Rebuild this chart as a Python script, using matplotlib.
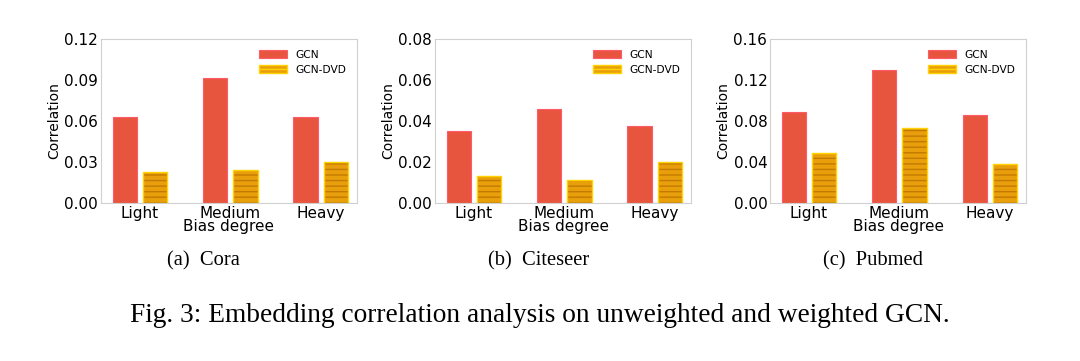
import numpy as np
import matplotlib
matplotlib.use("Agg")
import matplotlib.pyplot as plt

categories = ["Light", "Medium", "Heavy"]
datasets = ["(a)  Cora", "(b)  Citeseer", "(c)  Pubmed"]

cora_gcn = [0.0632, 0.0917, 0.0632]
cora_dvd = [0.0225, 0.0241, 0.0302]
citeseer_gcn = [0.0349, 0.0456, 0.0377]
citeseer_dvd = [0.0130, 0.0110, 0.0198]
pubmed_gcn = [0.0885, 0.1300, 0.0855]
pubmed_dvd = [0.0490, 0.0731, 0.0375]

y_max = [0.12, 0.08, 0.16]
y_ticks = [
    [0.00, 0.03, 0.06, 0.09, 0.12],
    [0.00, 0.02, 0.04, 0.06, 0.08],
    [0.00, 0.04, 0.08, 0.12, 0.16],
]

GCN_FACE = "#e8553e"
GCN_EDGE = "#ff5a6a"
DVD_FACE = "#e99f0c"
DVD_EDGE = "#ffd400"
DVD_HATCH = "#c27a00"

fig = plt.figure(figsize=(10.8, 3.61), dpi=100)
lefts = [0.0935, 0.4028, 0.713]
caption_x = [0.1884, 0.4986, 0.8085]
all_gcn = [cora_gcn, citeseer_gcn, pubmed_gcn]
all_dvd = [cora_dvd, citeseer_dvd, pubmed_dvd]

x = np.arange(len(categories))
w = 0.27
off = 0.167

for i in range(3):
    ax = fig.add_axes([lefts[i], 0.438, 0.237, 0.454])
    ax.bar(x - off, all_gcn[i], w, color=GCN_FACE, edgecolor=GCN_EDGE,
           linewidth=0.8, label="GCN")
    # hatch drawn in a darker tone, then the yellow outline on top
    ax.bar(x + off, all_dvd[i], w, color=DVD_FACE, edgecolor=DVD_HATCH,
           linewidth=0, hatch="---")
    ax.bar(x + off, all_dvd[i], w, color="none", edgecolor=DVD_EDGE,
           linewidth=1.0)
    ax.bar([0], [0], 0, color=DVD_FACE, edgecolor=DVD_EDGE, linewidth=1.0,
           hatch="---", label="GCN-DVD")

    ax.set_xlim(-0.43, 2.4)
    ax.set_ylim(0, y_max[i])
    ax.set_yticks(y_ticks[i])
    ax.set_yticklabels(["%.2f" % t for t in y_ticks[i]], fontsize=11)
    ax.set_xticks(x)
    ax.set_xticklabels(categories, fontsize=11)
    ax.tick_params(length=0, pad=2)
    ax.set_xlabel("Bias degree", fontsize=11, labelpad=-1)
    ax.set_ylabel("Correlation", fontsize=10, labelpad=2)
    for s in ax.spines.values():
        s.set_color("#d0d0d0")
        s.set_linewidth(0.8)
    ax.legend(loc="upper right", frameon=False, fontsize=7.7,
              handlelength=2.6, handleheight=0.8, borderaxespad=0.6)

    fig.text(caption_x[i], 1 - 261 / 361, datasets[i],
             ha="center", va="center", fontsize=14.8,
             family=["Liberation Serif", "DejaVu Serif"])

fig.text(0.5, 1 - 316 / 361,
         "Fig. 3: Embedding correlation analysis on unweighted and weighted GCN.",
         ha="center", va="center", fontsize=19.7,
         family=["Liberation Serif", "DejaVu Serif"])

fig.savefig("out.png", dpi=100, facecolor="white")
